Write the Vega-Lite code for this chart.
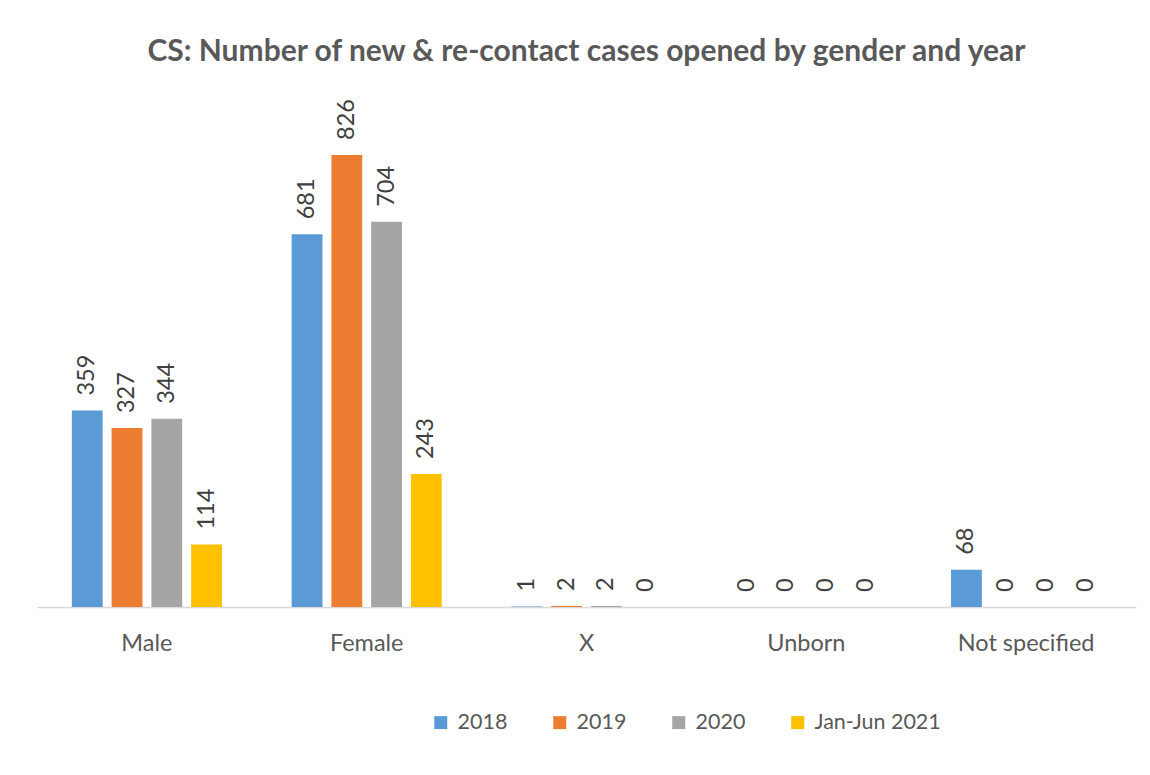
{
  "$schema": "https://vega.github.io/schema/vega-lite/v6.json",
  "width": 1099,
  "height": 492.5,
  "autosize": "none",
  "padding": {"left": 37, "top": 114.5, "right": 14, "bottom": 168},
  "background": "white",
  "title": {
    "text": "CS: Number of new & re-contact cases opened by gender and year",
    "font": "Lato",
    "fontSize": 30,
    "fontWeight": "bold",
    "color": "#595959",
    "anchor": "middle",
    "frame": "group",
    "baseline": "alphabetic",
    "offset": 8
  },
  "data": {
    "values": [
      {"gender": "Male", "year": "2018", "cases": 359},
      {"gender": "Male", "year": "2019", "cases": 327},
      {"gender": "Male", "year": "2020", "cases": 344},
      {"gender": "Male", "year": "Jan-Jun 2021", "cases": 114},
      {"gender": "Female", "year": "2018", "cases": 681},
      {"gender": "Female", "year": "2019", "cases": 826},
      {"gender": "Female", "year": "2020", "cases": 704},
      {"gender": "Female", "year": "Jan-Jun 2021", "cases": 243},
      {"gender": "X", "year": "2018", "cases": 1},
      {"gender": "X", "year": "2019", "cases": 2},
      {"gender": "X", "year": "2020", "cases": 2},
      {"gender": "X", "year": "Jan-Jun 2021", "cases": 0},
      {"gender": "Unborn", "year": "2018", "cases": 0},
      {"gender": "Unborn", "year": "2019", "cases": 0},
      {"gender": "Unborn", "year": "2020", "cases": 0},
      {"gender": "Unborn", "year": "Jan-Jun 2021", "cases": 0},
      {"gender": "Not specified", "year": "2018", "cases": 68},
      {"gender": "Not specified", "year": "2019", "cases": 0},
      {"gender": "Not specified", "year": "2020", "cases": 0},
      {"gender": "Not specified", "year": "Jan-Jun 2021", "cases": 0}
    ]
  },
  "encoding": {
    "x": {
      "field": "gender",
      "type": "nominal",
      "sort": ["Male", "Female", "X", "Unborn", "Not specified"],
      "scale": {"paddingInner": 0.317, "paddingOuter": 0.1585},
      "axis": {
        "title": null,
        "labelAngle": 0,
        "labelFont": "Lato",
        "labelFontSize": 23.5,
        "labelColor": "#595959",
        "ticks": false,
        "tickSize": 0,
        "labelPadding": 24,
        "domainColor": "#D9D9D9",
        "domainWidth": 1.5
      }
    },
    "xOffset": {
      "field": "year",
      "type": "nominal",
      "scale": {"paddingInner": 0.225, "paddingOuter": 0}
    },
    "y": {
      "field": "cases",
      "type": "quantitative",
      "scale": {"domain": [0, 900], "nice": false},
      "axis": null
    }
  },
  "layer": [
    {
      "mark": {"type": "bar"},
      "encoding": {
        "color": {
          "field": "year",
          "type": "nominal",
          "scale": {
            "domain": ["2018", "2019", "2020", "Jan-Jun 2021"],
            "range": ["#5B9BD5", "#ED7D31", "#A5A5A5", "#FFC000"]
          },
          "legend": {
            "title": null,
            "orient": "none",
            "legendX": 393,
            "legendY": 597,
            "direction": "horizontal",
            "columns": 4,
            "symbolType": "square",
            "symbolSize": 169,
            "symbolStrokeWidth": 0,
            "labelFont": "Lato",
            "labelFontSize": 21.5,
            "labelColor": "#595959",
            "labelOffset": 6,
            "columnPadding": 41,
            "padding": 0
          }
        }
      }
    },
    {
      "mark": {
        "type": "text",
        "angle": 270,
        "align": "left",
        "baseline": "middle",
        "font": "Lato",
        "fontSize": 23.5,
        "color": "#404040",
        "yOffset": -15
      },
      "encoding": {
        "text": {"field": "cases", "type": "quantitative"}
      }
    }
  ],
  "config": {
    "view": {"stroke": null}
  }
}
